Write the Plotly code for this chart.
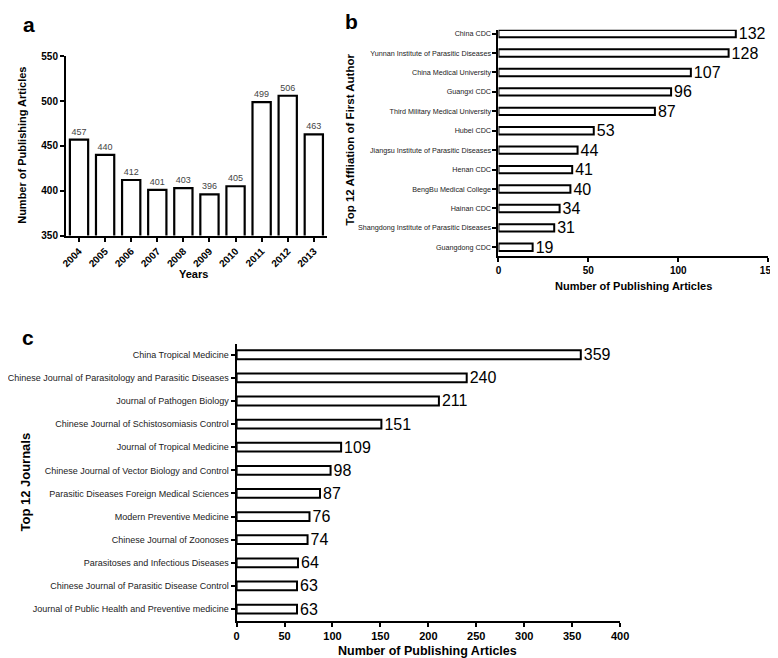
import plotly.graph_objects as go

years = ["2004", "2005", "2006", "2007", "2008", "2009", "2010", "2011", "2012", "2013"]
year_counts = [457, 440, 412, 401, 403, 396, 405, 499, 506, 463]

affiliations = ["China CDC", "Yunnan Institute of Parasitic Diseases", "China Medical University",
                "Guangxi CDC", "Third Military Medical University", "Hubei CDC",
                "Jiangsu Institute of Parasitic Diseases", "Henan CDC", "BengBu Medical College",
                "Hainan CDC", "Shangdong Institute of Parasitic Diseases", "Guangdong CDC"]
affiliation_counts = [132, 128, 107, 96, 87, 53, 44, 41, 40, 34, 31, 19]

journals = ["China Tropical Medicine", "Chinese Journal of Parasitology and Parasitic Diseases",
            "Journal of Pathogen Biology", "Chinese Journal of Schistosomiasis Control",
            "Journal of Tropical Medicine", "Chinese Journal of Vector Biology and Control",
            "Parasitic Diseases Foreign Medical Sciences", "Modern Preventive Medicine",
            "Chinese Journal of Zoonoses", "Parasitoses and Infectious Diseases",
            "Chinese Journal of Parasitic Disease Control",
            "Journal of Public Health and Preventive medicine"]
journal_counts = [359, 240, 211, 151, 109, 98, 87, 76, 74, 64, 63, 63]

W, H = 778, 658
FONT = "Liberation Sans, Arial, sans-serif"


def px(x):
    return x / W


def py(y):
    return 1 - y / H


fig = go.Figure()

fig.add_trace(go.Bar(
    x=years, y=year_counts, xaxis="x", yaxis="y",
    marker=dict(color="white", line=dict(color="black", width=2.2)),
    width=0.7, text=[str(v) for v in year_counts], textposition="outside",
    constraintext="none",
    textfont=dict(size=9, color="#444", family=FONT), cliponaxis=False,
))
fig.add_trace(go.Bar(
    x=affiliation_counts, y=affiliations, orientation="h", xaxis="x2", yaxis="y2",
    marker=dict(color="white", line=dict(color="black", width=2)),
    width=0.38, text=[str(v) for v in affiliation_counts], textposition="outside",
    constraintext="none",
    textfont=dict(size=16, color="black", family=FONT), cliponaxis=False,
))
fig.add_trace(go.Bar(
    x=journal_counts, y=journals, orientation="h", xaxis="x3", yaxis="y3",
    marker=dict(color="white", line=dict(color="black", width=2)),
    width=0.38, text=[str(v) for v in journal_counts], textposition="outside",
    constraintext="none",
    textfont=dict(size=16, color="black", family=FONT), cliponaxis=False,
))

axis_common = dict(showline=True, linecolor="black", linewidth=2, ticks="outside",
                   tickcolor="black", tickwidth=2, ticklen=4, showgrid=False,
                   zeroline=False, mirror=False)

fig.update_layout(
    width=W, height=H, margin=dict(l=0, r=0, t=0, b=0),
    paper_bgcolor="white", plot_bgcolor="white", showlegend=False,
    font=dict(family=FONT, color="black"),
    xaxis=dict(domain=[px(53), px(319)], anchor="y", type="category",
               range=[-0.5, 9.5], tickangle=-45,
               tickfont=dict(size=10, family=FONT, weight="bold"), **axis_common),
    yaxis=dict(domain=[py(226), py(44)], anchor="x", range=[350, 550],
               tickvals=[350, 400, 450, 500, 550],
               tickfont=dict(size=10, family=FONT, weight="bold"), **axis_common),
    xaxis2=dict(domain=[px(494), px(769)], anchor="y2", range=[0, 150],
                tickvals=[0, 50, 100, 150],
                tickfont=dict(size=10, family=FONT, weight="bold"), **axis_common),
    yaxis2=dict(domain=[py(247), py(17)], anchor="x2", type="category",
                categoryorder="array", categoryarray=affiliations,
                range=[11.46, -0.2],
                tickfont=dict(size=7.2, family=FONT, color="#222"), **axis_common),
    xaxis3=dict(domain=[px(227), px(618)], anchor="y3", range=[0, 400],
                tickvals=[0, 50, 100, 150, 200, 250, 300, 350, 400],
                tickfont=dict(size=11, family=FONT, weight="bold"), **axis_common),
    yaxis3=dict(domain=[py(617), py(336)], anchor="x3", type="category",
                categoryorder="array", categoryarray=journals,
                range=[11.5, -0.47],
                tickfont=dict(size=9, family=FONT, color="#222"), **axis_common),
)

ann = [
    dict(text="<b>a</b>", x=px(15), y=py(12), size=21, angle=0),
    dict(text="<b>b</b>", x=px(344), y=py(9), size=21, angle=0),
    dict(text="<b>c</b>", x=px(14), y=py(329), size=21, angle=0),
    dict(text="<b>Number of Publishing Articles</b>", x=px(8), y=py(134), size=11, angle=-90),
    dict(text="<b>Years</b>", x=px(183), y=py(265), size=11, angle=0),
    dict(text="<b>Top 12 Affliation of First Author</b>", x=px(343), y=py(128), size=11.5, angle=-90),
    dict(text="<b>Number of Publishing Articles</b>", x=px(632), y=py(277), size=11, angle=0),
    dict(text="<b>Top 12 Journals</b>", x=px(12), y=py(476), size=13, angle=-90),
    dict(text="<b>Number of Publishing Articles</b>", x=px(422), y=py(648), size=12.5, angle=0),
]
for a in ann:
    fig.add_annotation(text=a["text"], x=a["x"], y=a["y"], xref="paper", yref="paper",
                       xanchor="center", yanchor="middle", showarrow=False,
                       textangle=a["angle"], font=dict(size=a["size"], family=FONT, color="black"))

fig.write_html("out.html")
